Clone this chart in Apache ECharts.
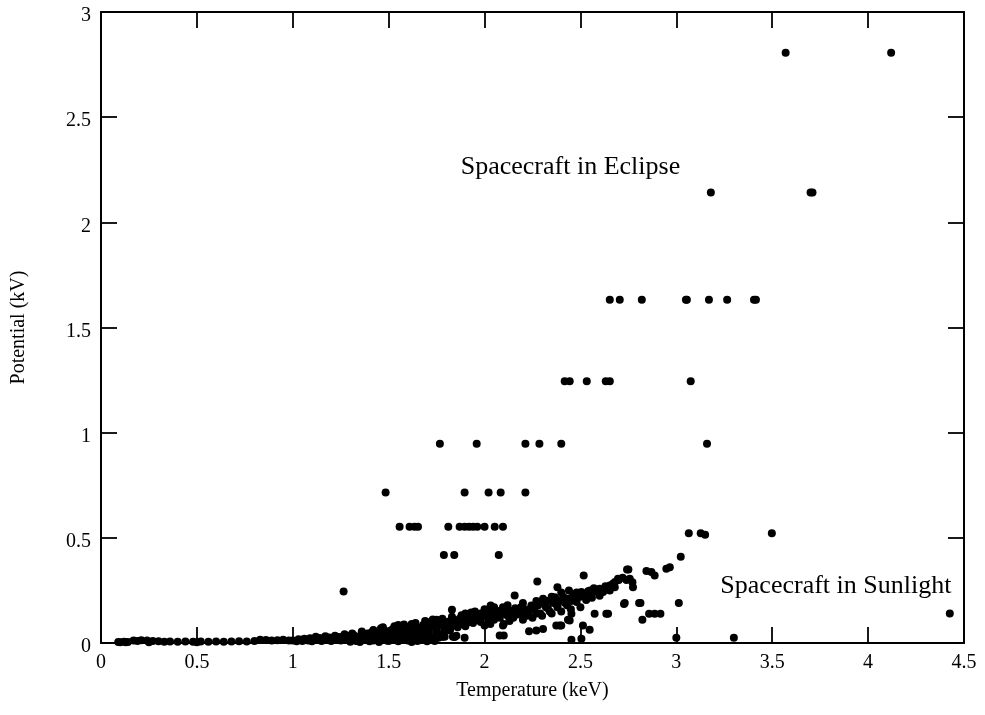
<!DOCTYPE html>
<html><head><meta charset="utf-8">
<script src="https://cdn.jsdelivr.net/npm/echarts@6/dist/echarts.min.js"></script>
<style>html,body{margin:0;padding:0;background:#fff}#c{width:985px;height:715px}</style>
</head><body><div id="c"></div>
<script>
// Axis ranges / labels
const xTitle = 'Temperature (keV)';
const yTitle = 'Potential (kV)';
const xRange = [0, 4.5], xStep = 0.5;
const yRange = [0, 3], yStep = 0.5;

// Low-temperature floor (T, V)
const lowBand = [
[0.09,0.005],[0.10,0.004],[0.12,0.006],[0.13,0.003],[0.14,0.005],[0.17,0.012],[0.19,0.010],[0.21,0.013],[0.24,0.012],[0.25,0.004],[0.27,0.010],[0.30,0.008],[0.33,0.006],[0.36,0.007],[0.40,0.006],[0.44,0.007],[0.48,0.006],[0.50,0.003],[0.52,0.007],[0.56,0.006],[0.60,0.007],[0.64,0.006],[0.68,0.007],[0.72,0.008],[0.76,0.007],[0.80,0.010],[0.83,0.015],[0.86,0.014],[0.89,0.012],[0.92,0.013],[0.95,0.016],[0.98,0.012]
];

// Main sunlight band (T, V)
const mainBand = [
[1.00,0.012],[1.02,0.008],[1.03,0.018],[1.05,0.010],[1.06,0.020],[1.08,0.012],[1.09,0.022],[1.10,0.008],[1.11,0.018],[1.13,0.014],[1.14,0.024],[1.15,0.010],[1.16,0.020],[1.18,0.016],[1.19,0.026],[1.20,0.010],[1.21,0.022],[1.23,0.018],[1.24,0.028],[1.25,0.012],[1.26,0.030],[1.27,0.020],[1.28,0.035],[1.29,0.014],[1.30,0.028],[1.31,0.022],[1.32,0.036],[1.33,0.010],[1.34,0.030],[1.35,0.020],[1.36,0.040],[1.37,0.015],[1.38,0.032],[1.39,0.045],[1.40,0.025],[1.41,0.050],[1.42,0.012],[1.43,0.038],[1.44,0.055],[1.45,0.020],[1.46,0.045],[1.47,0.030],[1.48,0.060],[1.49,0.012],[1.50,0.050],[1.51,0.035],[1.52,0.065],[1.53,0.020],[1.54,0.055],[1.55,0.040],[1.56,0.070],[1.57,0.015],[1.58,0.060],[1.59,0.045],[1.60,0.075],[1.61,0.030],[1.62,0.065],[1.63,0.050],[1.64,0.080],[1.65,0.020],[1.66,0.070],[1.67,0.055],[1.68,0.085],[1.69,0.035],[1.70,0.075],[1.71,0.060],[1.72,0.090],[1.73,0.025],[1.74,0.080],[1.75,0.065],[1.76,0.095],[1.77,0.040],[1.78,0.085],[1.79,0.070],[1.80,0.100],[1.81,0.090],[1.82,0.105],[1.83,0.080],[1.84,0.110],[1.85,0.095],[1.86,0.100],[1.87,0.115],[1.88,0.090],[1.89,0.120],[1.90,0.105],[1.91,0.125],[1.92,0.100],[1.93,0.130],[1.94,0.115],[1.95,0.120],[1.96,0.135],[1.97,0.110],[1.98,0.140],[1.99,0.125],[2.00,0.140],[2.01,0.130],[2.02,0.150],[2.03,0.120],[2.04,0.145],[2.05,0.135],[2.06,0.155],[2.07,0.130],[2.08,0.150],[2.10,0.140],[2.11,0.160],[2.12,0.130],[2.13,0.155],[2.15,0.145],[2.16,0.165],[2.18,0.150],[2.19,0.170],[2.20,0.140],[2.21,0.160],[2.23,0.150],[2.25,0.175],[2.26,0.160],[2.28,0.180],[2.29,0.140],[2.31,0.190],[2.32,0.170],[2.33,0.200],[2.34,0.150],[2.36,0.190],[2.37,0.210],[2.38,0.180],[2.39,0.200],[2.41,0.220],[2.42,0.190],[2.43,0.210],[2.45,0.200],[2.46,0.230],[2.47,0.210],[2.48,0.240],[2.50,0.220],[2.51,0.235],[2.53,0.230],[2.55,0.250],[2.56,0.240],[2.57,0.260],[2.58,0.245],[2.62,0.250],[2.63,0.270],[2.65,0.260],[2.68,0.290],[2.70,0.300],[2.72,0.310],[2.74,0.300],
[1.30,0.006],[1.35,0.005],[1.40,0.008],[1.45,0.005],[1.50,0.010],[1.50,0.025],[1.55,0.008],[1.60,0.012],[1.62,0.005],[1.65,0.010],[1.68,0.015],[1.70,0.008],[1.72,0.020],[1.74,0.010],[1.76,0.025],[1.78,0.030],
[1.46,0.070],[1.55,0.085],[1.62,0.090],[1.70,0.100],[1.75,0.110],[1.90,0.140],[1.95,0.150],[2.00,0.160],[2.05,0.170],[2.12,0.180],[2.20,0.190],[2.27,0.200],[2.35,0.220],[2.40,0.240],[2.44,0.250],
[2.02,0.100],[2.05,0.110],[2.10,0.090],[2.15,0.120],[2.20,0.110],[2.25,0.120],[2.30,0.130],[2.35,0.140],[2.40,0.150],[2.45,0.160],[2.50,0.170],
[1.12,0.030],[1.17,0.032],[1.22,0.035],[1.27,0.042],[1.31,0.045],[1.36,0.055],[1.42,0.062],[1.47,0.075],[1.53,0.080],[1.58,0.088],[1.64,0.095],[1.69,0.105],[1.73,0.112],[1.78,0.115],[1.83,0.125],[1.88,0.132],[1.93,0.145],
[1.44,0.030],[1.48,0.040],[1.52,0.045],[1.56,0.030],[1.58,0.028],[1.63,0.035],[1.66,0.045],[1.71,0.045],[1.75,0.050],[1.79,0.055],[1.82,0.060],[1.86,0.075],[1.90,0.080],[1.94,0.095],[1.98,0.100],
[2.03,0.090],[2.08,0.120],[2.13,0.105],[2.17,0.135],[2.22,0.130],[2.27,0.140],[2.33,0.165],[2.38,0.170],[2.43,0.180],[2.48,0.195],[2.53,0.205],[2.56,0.215],[2.60,0.225]
];

// Scattered sunlight points (T, V)
const scatterSun = [
[1.265,0.245],[1.83,0.158],[2.032,0.178],[2.157,0.226],[2.275,0.292],[2.38,0.265],[2.517,0.321],[2.743,0.35],[2.727,0.186],[2.574,0.139],[2.644,0.139],[2.374,0.083],[2.40,0.083],[2.232,0.056],[2.27,0.059],[2.305,0.067],[2.453,0.015],[2.505,0.02],[2.548,0.063],[2.444,0.107],[2.453,0.139],[2.505,0.242],[2.54,0.246],[2.60,0.258],[2.653,0.273],[2.67,0.282],[2.696,0.305],[2.096,0.083],[2.10,0.036],[2.079,0.036],[1.783,0.031],[1.844,0.028],[1.896,0.025],[1.792,0.03],[1.835,0.03],[1.853,0.035],[2.244,0.178],[2.192,0.17],[2.305,0.21],[2.366,0.218],[2.461,0.218],[2.496,0.226],[2.435,0.11],[2.392,0.083],[2.513,0.083],[2.096,0.17],[1.99,0.139],[2.00,0.083],
[3.00,0.025],[3.30,0.025],[3.013,0.19],[3.023,0.41],[2.948,0.353],[2.966,0.36],[2.844,0.342],[2.870,0.337],[2.887,0.321],[2.75,0.35],[2.757,0.305],[2.771,0.289],[2.774,0.265],[2.696,0.302],[2.67,0.28],[2.679,0.265],[2.653,0.25],[2.618,0.242],[2.60,0.234],[2.731,0.19],[2.806,0.19],[2.813,0.19],[2.823,0.11],[2.858,0.139],[2.887,0.139],[2.917,0.139],[2.635,0.139],[4.426,0.14],[3.065,0.522],[3.127,0.522],[3.15,0.515],[3.498,0.522]
];

// Eclipse points (T, V)
const eclipse = [
[2.653,1.632],[2.705,1.632],[2.82,1.632],[3.05,1.632],[3.055,1.632],[3.17,1.632],[3.265,1.632],[3.405,1.632],[3.415,1.632],
[2.418,1.245],[2.444,1.245],[2.533,1.245],[2.632,1.245],[2.653,1.245],[3.075,1.245],
[1.767,0.947],[1.959,0.947],[2.213,0.947],[2.286,0.947],[2.40,0.947],[3.16,0.947],
[1.484,0.716],[1.896,0.716],[2.021,0.716],[2.084,0.716],[2.213,0.716],
[1.557,0.553],[1.609,0.553],[1.635,0.553],[1.653,0.553],[1.811,0.553],[1.870,0.553],[1.896,0.553],[1.919,0.553],[1.940,0.553],[1.962,0.553],[2.00,0.553],[2.053,0.553],[2.096,0.553],
[1.788,0.418],[1.842,0.418],[2.074,0.418],
[3.18,2.142],[3.70,2.142],[3.71,2.142],
[3.57,2.806],[4.12,2.806]
];

// Annotations (text, T, V)
const notes = [
  ['Spacecraft in Eclipse', 2.448, 2.26],
  ['Spacecraft in Sunlight', 3.832, 0.268]
];

const FONT = 'Liberation Serif';
const axisLine = {show:true, onZero:false, lineStyle:{color:'#000', width:2}};
const tick = {show:true, inside:true, length:16, lineStyle:{color:'#000', width:1.8}};
const lbl = {color:'#000', fontFamily:FONT, fontSize:20};

const chart = echarts.init(document.getElementById('c'), null, {renderer:'canvas'});
chart.setOption({
  animation:false,
  backgroundColor:'#fff',
  grid:{left:101, right:21, top:12, bottom:72, containLabel:false},
  xAxis:[
    {type:'value', min:xRange[0], max:xRange[1], interval:xStep, position:'bottom',
     axisLine, axisTick:tick, splitLine:{show:false},
     axisLabel:Object.assign({margin:10}, lbl),
     name:xTitle, nameLocation:'middle', nameGap:38,
     nameTextStyle:{color:'#000', fontFamily:FONT, fontSize:20}},
    {type:'value', min:xRange[0], max:xRange[1], interval:xStep, position:'top',
     axisLine, axisTick:tick, splitLine:{show:false}, axisLabel:{show:false}}
  ],
  yAxis:[
    {type:'value', min:yRange[0], max:yRange[1], interval:yStep, position:'left',
     axisLine, axisTick:tick, splitLine:{show:false},
     axisLabel:Object.assign({margin:10, verticalAlign:'top', lineHeight:8}, lbl),
     name:yTitle, nameLocation:'middle', nameGap:72, nameRotate:90,
     nameTextStyle:{color:'#000', fontFamily:FONT, fontSize:20}},
    {type:'value', min:yRange[0], max:yRange[1], interval:yStep, position:'right',
     axisLine, axisTick:tick, splitLine:{show:false}, axisLabel:{show:false}}
  ],
  series:[
    {type:'scatter', name:'sunlight', data:lowBand.concat(mainBand, scatterSun),
     symbol:'circle', symbolSize:8, itemStyle:{color:'#000', opacity:1}, silent:true},
    {type:'scatter', name:'eclipse', data:eclipse,
     symbol:'circle', symbolSize:8, itemStyle:{color:'#000', opacity:1}, silent:true,
     markPoint:{
       symbol:'circle', symbolSize:0, silent:true,
       label:{show:true, position:'inside', color:'#000', fontFamily:FONT, fontSize:26,
              formatter:p=>p.name},
       data:notes.map(n=>({name:n[0], coord:[n[1], n[2]]}))
     }}
  ]
});
</script></body></html>
